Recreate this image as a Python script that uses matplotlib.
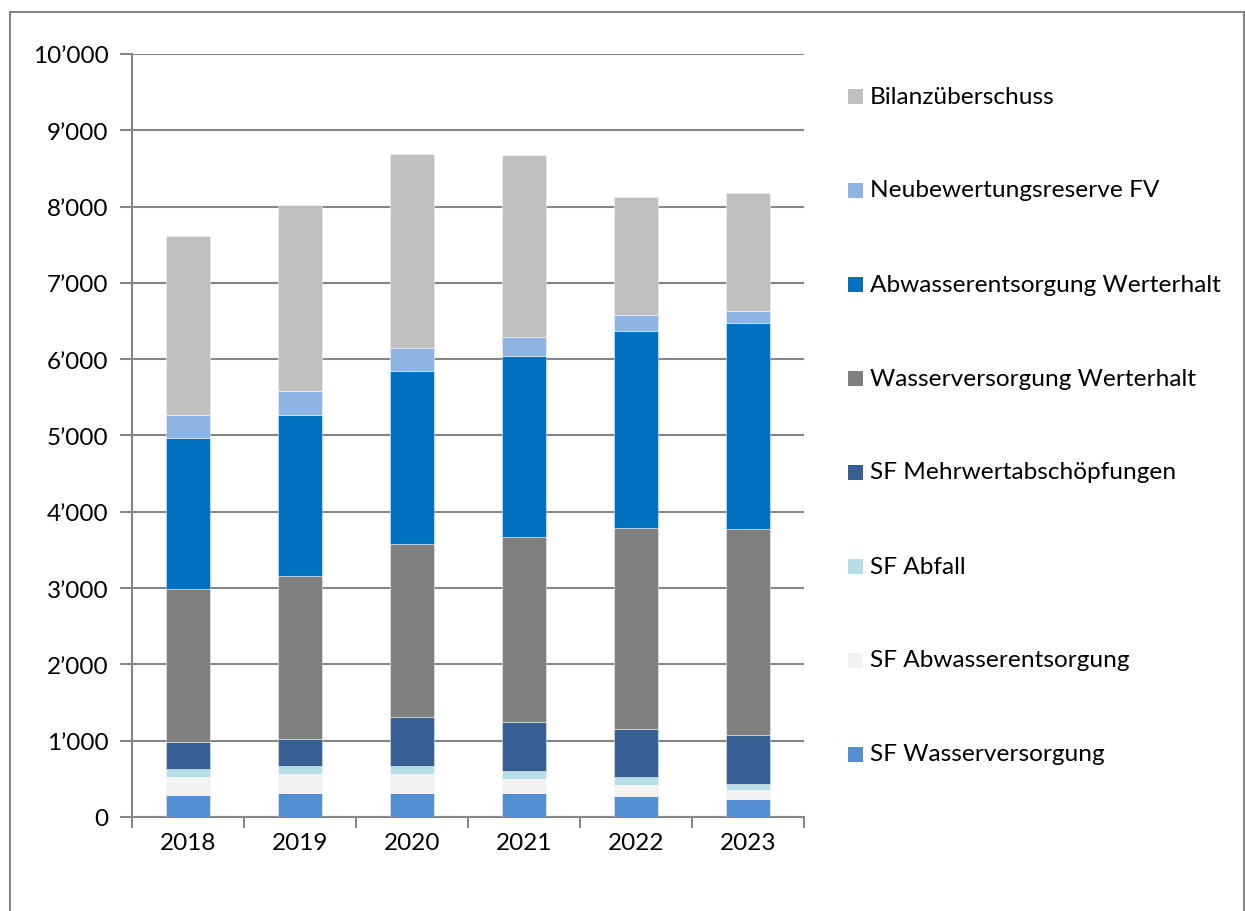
import matplotlib
matplotlib.use("Agg")
import matplotlib.pyplot as plt
from matplotlib.patches import Rectangle
from matplotlib.ticker import FuncFormatter, FixedLocator
import numpy as np

plt.rcParams['font.family'] = ['Lato', 'DejaVu Sans']

years = ['2018', '2019', '2020', '2021', '2022', '2023']

# bottom to top
sf_wasserversorgung = [290, 318, 318, 318, 271, 240]
sf_abwasserentsorgung = [235, 246, 241, 184, 144, 110]
sf_abfall = [108, 109, 109, 105, 105, 87]
sf_mehrwert = [354, 353, 638, 642, 637, 633]
wasser_werterhalt = [2001, 2137, 2268, 2417, 2631, 2709]
abwasser_werterhalt = [1979, 2106, 2275, 2372, 2578, 2691]
neubewertung_fv = [306, 310, 298, 257, 217, 166]
bilanzueberschuss = [2346, 2446, 2538, 2381, 1539, 1538]

series = [
    ('SF Wasserversorgung', sf_wasserversorgung, '#558ED5'),
    ('SF Abwasserentsorgung', sf_abwasserentsorgung, '#F2F2F2'),
    ('SF Abfall', sf_abfall, '#B7DEE8'),
    ('SF Mehrwertabschöpfungen', sf_mehrwert, '#366092'),
    ('Wasserversorgung Werterhalt', wasser_werterhalt, '#808080'),
    ('Abwasserentsorgung Werterhalt', abwasser_werterhalt, '#0070C0'),
    ('Neubewertungsreserve FV', neubewertung_fv, '#8EB4E3'),
    ('Bilanzüberschuss', bilanzueberschuss, '#BFBFBF'),
]

W, H = 1245, 912
fig = plt.figure(figsize=(W / 100, H / 100), dpi=100)
ax = fig.add_axes([132 / W, 1 - 818 / H, (804 - 132) / W, (818 - 55) / H])

grid_c = '#868686'
x = np.arange(len(years))
bottom = np.zeros(len(years))
for name, vals, col in series:
    v = np.array(vals, dtype=float)
    ax.bar(x, v, bottom=bottom, width=0.4, color=col, edgecolor=(1, 1, 1, 0.5),
           linewidth=0.6, zorder=3)
    bottom += v

ax.set_xlim(-0.5, len(years) - 0.5)
ax.set_ylim(0, 10000)
ax.set_yticks(np.arange(0, 10001, 1000))
ax.yaxis.set_major_formatter(FuncFormatter(
    lambda v, p: f"{int(v):,}".replace(',', '\u2019')))
ax.yaxis.grid(True, color=grid_c, linewidth=1.5, zorder=1)
ax.set_axisbelow(True)

ax.set_xticks(x)
ax.set_xticklabels(years)
ax.xaxis.set_minor_locator(FixedLocator(np.arange(-0.5, len(years), 1.0)))
ax.tick_params(axis='x', which='major', length=0, pad=11, labelsize=17.5, colors='black')
ax.tick_params(axis='x', which='minor', length=8, width=1.5, color=grid_c)
ax.tick_params(axis='y', which='major', length=9, width=1.5, color=grid_c,
               pad=8, labelsize=17.5)

for s in ['top', 'right']:
    ax.spines[s].set_visible(False)
for s in ['left', 'bottom']:
    ax.spines[s].set_color(grid_c)
    ax.spines[s].set_linewidth(1.5)

# outer frame
fig.patches.append(Rectangle((10 / W, -0.05), (1244 - 10) / W, (1 - 13 / H) + 0.05,
                             transform=fig.transFigure, fill=False,
                             edgecolor=grid_c, linewidth=1.5, zorder=0))

# legend (manual, top to bottom)
leg_y0 = 97
leg_step = 94
for i, (name, vals, col) in enumerate(reversed(series)):
    yc = leg_y0 + i * leg_step
    fig.patches.append(Rectangle((848 / W, 1 - (yc + 7.5) / H), 15 / W, 15 / H,
                                 transform=fig.transFigure, facecolor=col,
                                 edgecolor='none'))
    fig.text(870 / W, 1 - yc / H, name, fontsize=17.6, va='center', ha='left',
             color='black')

fig.savefig('out.png', dpi=100)
